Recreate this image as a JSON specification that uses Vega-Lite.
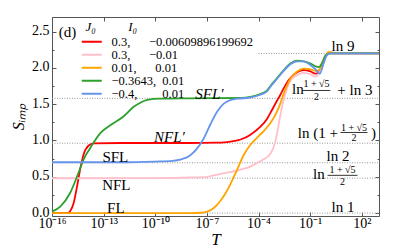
{
  "$schema": "https://vega.github.io/schema/vega-lite/v6.json",
  "width": 327,
  "height": 199,
  "autosize": {"type": "none"},
  "padding": {"left": 52, "top": 17, "right": 20, "bottom": 33},
  "background": "white",
  "config": {
    "view": {"stroke": "#555", "strokeWidth": 1},
    "font": "Liberation Serif",
    "axis": {"domain": false, "grid": false, "tickColor": "#555", "labelColor": "black", "labelFont": "Liberation Serif", "labelFontSize": 14, "titleFont": "Liberation Serif", "titleColor": "black", "titleFontWeight": "normal", "labelFlush": false, "labelOverlap": false}
  },
  "datasets": {
    "refs": [
      {"y": 2.1972, "x1": -4, "x2": 3},
      {"y": 1.5798, "x1": -16, "x2": 3},
      {"y": 0.9624, "x1": -16, "x2": 3},
      {"y": 0.6931, "x1": -16, "x2": 3},
      {"y": 0.4812, "x1": -16, "x2": 3},
      {"y": 0.0, "x1": -16, "x2": 3}
    ],
    "curves": [
      {"series": "A", "logT": -16, "S": 0}, {"series": "A", "logT": -15.1, "S": 0}, {"series": "A", "logT": -14.94, "S": 0.03}, {"series": "A", "logT": -14.74, "S": 0.14}, {"series": "A", "logT": -14.55, "S": 0.36}, {"series": "A", "logT": -14.35, "S": 0.62}, {"series": "A", "logT": -14.16, "S": 0.81}, {"series": "A", "logT": -13.87, "S": 0.93}, {"series": "A", "logT": -13.58, "S": 0.96}, {"series": "A", "logT": -12, "S": 0.965}, {"series": "A", "logT": -8, "S": 0.965}, {"series": "A", "logT": -6.5, "S": 0.97}, {"series": "A", "logT": -6.0, "S": 0.975}, {"series": "A", "logT": -5.63, "S": 0.985}, {"series": "A", "logT": -5.24, "S": 1.0}, {"series": "A", "logT": -4.86, "S": 1.03}, {"series": "A", "logT": -4.47, "S": 1.08}, {"series": "A", "logT": -3.89, "S": 1.19}, {"series": "A", "logT": -3.5, "S": 1.30}, {"series": "A", "logT": -3.31, "S": 1.38}, {"series": "A", "logT": -2.92, "S": 1.55}, {"series": "A", "logT": -2.73, "S": 1.63}, {"series": "A", "logT": -2.53, "S": 1.72}, {"series": "A", "logT": -2.34, "S": 1.80}, {"series": "A", "logT": -2.15, "S": 1.86}, {"series": "A", "logT": -1.76, "S": 1.94}, {"series": "A", "logT": -1.37, "S": 1.97}, {"series": "A", "logT": -0.98, "S": 1.95}, {"series": "A", "logT": -0.69, "S": 1.92}, {"series": "A", "logT": -0.49, "S": 1.94}, {"series": "A", "logT": -0.30, "S": 2.02}, {"series": "A", "logT": -0.11, "S": 2.15}, {"series": "A", "logT": 0.08, "S": 2.2}, {"series": "A", "logT": 3, "S": 2.2},

      {"series": "B", "logT": -16, "S": 0.48}, {"series": "B", "logT": -10, "S": 0.482}, {"series": "B", "logT": -8, "S": 0.49}, {"series": "B", "logT": -7, "S": 0.50}, {"series": "B", "logT": -6.21, "S": 0.54}, {"series": "B", "logT": -5.05, "S": 0.60}, {"series": "B", "logT": -4.47, "S": 0.64}, {"series": "B", "logT": -4.08, "S": 0.69}, {"series": "B", "logT": -3.70, "S": 0.74}, {"series": "B", "logT": -3.41, "S": 0.79}, {"series": "B", "logT": -3.21, "S": 0.86}, {"series": "B", "logT": -3.05, "S": 0.96}, {"series": "B", "logT": -2.92, "S": 1.10}, {"series": "B", "logT": -2.73, "S": 1.35}, {"series": "B", "logT": -2.53, "S": 1.57}, {"series": "B", "logT": -2.34, "S": 1.72}, {"series": "B", "logT": -2.15, "S": 1.82}, {"series": "B", "logT": -1.76, "S": 1.90}, {"series": "B", "logT": -1.37, "S": 1.93}, {"series": "B", "logT": -0.98, "S": 1.91}, {"series": "B", "logT": -0.69, "S": 1.88}, {"series": "B", "logT": -0.40, "S": 1.96}, {"series": "B", "logT": -0.11, "S": 2.15}, {"series": "B", "logT": 0.18, "S": 2.2}, {"series": "B", "logT": 3, "S": 2.2},

      {"series": "C", "logT": -16, "S": 0}, {"series": "C", "logT": -8, "S": 0}, {"series": "C", "logT": -7.3, "S": 0.005}, {"series": "C", "logT": -6.99, "S": 0.02}, {"series": "C", "logT": -6.6, "S": 0.07}, {"series": "C", "logT": -6.21, "S": 0.17}, {"series": "C", "logT": -5.9, "S": 0.28}, {"series": "C", "logT": -5.63, "S": 0.40}, {"series": "C", "logT": -5.24, "S": 0.60}, {"series": "C", "logT": -4.86, "S": 0.80}, {"series": "C", "logT": -4.47, "S": 0.94}, {"series": "C", "logT": -4.08, "S": 1.04}, {"series": "C", "logT": -3.70, "S": 1.13}, {"series": "C", "logT": -3.31, "S": 1.24}, {"series": "C", "logT": -2.92, "S": 1.40}, {"series": "C", "logT": -2.73, "S": 1.51}, {"series": "C", "logT": -2.53, "S": 1.65}, {"series": "C", "logT": -2.34, "S": 1.76}, {"series": "C", "logT": -2.15, "S": 1.85}, {"series": "C", "logT": -1.76, "S": 1.95}, {"series": "C", "logT": -1.37, "S": 1.99}, {"series": "C", "logT": -0.98, "S": 1.98}, {"series": "C", "logT": -0.69, "S": 1.96}, {"series": "C", "logT": -0.49, "S": 1.97}, {"series": "C", "logT": -0.21, "S": 2.12}, {"series": "C", "logT": 0.08, "S": 2.22}, {"series": "C", "logT": 0.47, "S": 2.205}, {"series": "C", "logT": 3, "S": 2.2},

      {"series": "D", "logT": -16, "S": 0.02}, {"series": "D", "logT": -15.52, "S": 0.09}, {"series": "D", "logT": -14.94, "S": 0.28}, {"series": "D", "logT": -14.55, "S": 0.50}, {"series": "D", "logT": -14.26, "S": 0.68}, {"series": "D", "logT": -14.16, "S": 0.74}, {"series": "D", "logT": -13.77, "S": 0.90}, {"series": "D", "logT": -13.19, "S": 1.10}, {"series": "D", "logT": -12.61, "S": 1.21}, {"series": "D", "logT": -11.85, "S": 1.33}, {"series": "D", "logT": -11.27, "S": 1.46}, {"series": "D", "logT": -10.87, "S": 1.52}, {"series": "D", "logT": -10.46, "S": 1.56}, {"series": "D", "logT": -9.7, "S": 1.575}, {"series": "D", "logT": -8, "S": 1.58}, {"series": "D", "logT": -5, "S": 1.585}, {"series": "D", "logT": -4.47, "S": 1.60}, {"series": "D", "logT": -3.89, "S": 1.64}, {"series": "D", "logT": -3.5, "S": 1.69}, {"series": "D", "logT": -3.31, "S": 1.75}, {"series": "D", "logT": -2.92, "S": 1.86}, {"series": "D", "logT": -2.53, "S": 1.97}, {"series": "D", "logT": -2.15, "S": 2.06}, {"series": "D", "logT": -1.76, "S": 2.10}, {"series": "D", "logT": -1.37, "S": 2.09}, {"series": "D", "logT": -0.98, "S": 2.06}, {"series": "D", "logT": -0.69, "S": 2.02}, {"series": "D", "logT": -0.49, "S": 2.01}, {"series": "D", "logT": -0.30, "S": 2.07}, {"series": "D", "logT": -0.11, "S": 2.17}, {"series": "D", "logT": 0.18, "S": 2.2}, {"series": "D", "logT": 3, "S": 2.2},

      {"series": "E", "logT": -16, "S": 0.70}, {"series": "E", "logT": -12, "S": 0.70}, {"series": "E", "logT": -10, "S": 0.71}, {"series": "E", "logT": -9, "S": 0.72}, {"series": "E", "logT": -8.5, "S": 0.74}, {"series": "E", "logT": -8, "S": 0.79}, {"series": "E", "logT": -7.6, "S": 0.88}, {"series": "E", "logT": -7.2, "S": 1.02}, {"series": "E", "logT": -6.8, "S": 1.22}, {"series": "E", "logT": -6.4, "S": 1.40}, {"series": "E", "logT": -6.0, "S": 1.51}, {"series": "E", "logT": -5.6, "S": 1.56}, {"series": "E", "logT": -5.2, "S": 1.575}, {"series": "E", "logT": -4.5, "S": 1.59}, {"series": "E", "logT": -3.89, "S": 1.63}, {"series": "E", "logT": -3.5, "S": 1.68}, {"series": "E", "logT": -3.31, "S": 1.74}, {"series": "E", "logT": -2.92, "S": 1.85}, {"series": "E", "logT": -2.53, "S": 1.96}, {"series": "E", "logT": -2.15, "S": 2.05}, {"series": "E", "logT": -1.76, "S": 2.09}, {"series": "E", "logT": -1.37, "S": 2.09}, {"series": "E", "logT": -0.98, "S": 2.04}, {"series": "E", "logT": -0.69, "S": 1.98}, {"series": "E", "logT": -0.44, "S": 1.92}, {"series": "E", "logT": -0.21, "S": 2.07}, {"series": "E", "logT": -0.01, "S": 2.18}, {"series": "E", "logT": 0.18, "S": 2.2}, {"series": "E", "logT": 3, "S": 2.2}
    ],
    "labels": [
      {"logT": -15.1, "S": 2.5, "text": "(d)"},
      {"logT": -12.32, "S": 0.773, "text": "SFL"},
      {"logT": -12.26, "S": 0.388, "text": "NFL"},
      {"logT": -12.29, "S": 0.072, "text": "FL"},
      {"logT": 0.91, "S": 2.304, "text": "ln 9"},
      {"logT": 0.62, "S": 0.78, "text": "ln 2"},
      {"logT": 0.91, "S": 0.085, "text": "ln 1"},
      {"logT": -1.71, "S": 1.708, "text": "ln"},
      {"logT": 1.60, "S": 1.70, "text": "+ ln 3"},
      {"logT": -0.55, "S": 1.103, "text": "ln (1 +"},
      {"logT": 2.68, "S": 1.103, "text": ")"},
      {"logT": -0.49, "S": 0.535, "text": "ln"}
    ],
    "italic": [
      {"logT": -6.85, "S": 1.64, "text": "SFL′"},
      {"logT": -9.18, "S": 1.048, "text": "NFL′"}
    ],
    "small": [
      {"logT": -0.63, "S": 1.777, "text": "1 + √5"},
      {"logT": -0.63, "S": 1.605, "text": "2"},
      {"logT": 1.55, "S": 1.172, "text": "1 + √5"},
      {"logT": 1.55, "S": 1.034, "text": "2"},
      {"logT": 0.88, "S": 0.595, "text": "1 + √5"},
      {"logT": 0.88, "S": 0.425, "text": "2"}
    ],
    "bars": [
      {"x1": -1.45, "x2": 0.17, "S": 1.688},
      {"x1": 0.76, "x2": 2.33, "S": 1.11},
      {"x1": 0.01, "x2": 1.75, "S": 0.52}
    ]
  },
  "layer": [
    {
      "data": {"name": "refs"},
      "mark": {"type": "rule", "stroke": "#999", "strokeWidth": 1, "strokeDash": [1, 1.5]},
      "encoding": {
        "x": {"field": "x1", "type": "quantitative", "scale": {"domain": [-16, 3], "nice": false, "zero": false},
          "axis": {"orient": "bottom", "values": [-16, -13, -10, -7, -4, -1, 2], "tickSize": -4, "labelPadding": 4,
            "labelExpr": "datum.value == -16 ? '10⁻¹⁶' : datum.value == -13 ? '10⁻¹³' : datum.value == -10 ? '10⁻¹⁰' : datum.value == -7 ? '10⁻⁷' : datum.value == -4 ? '10⁻⁴' : datum.value == -1 ? '10⁻¹' : '10²'",
            "title": "T", "titleFontStyle": "italic", "titleFontSize": 17, "titlePadding": 1}},
        "x2": {"field": "x2"},
        "y": {"field": "y", "type": "quantitative", "scale": {"domain": [-0.04, 2.7], "nice": false, "zero": false},
          "axis": {"orient": "left", "values": [0, 0.5, 1, 1.5, 2, 2.5], "format": ".1f", "tickSize": -4, "labelPadding": 7, "labelOffset": -1,
            "title": "Sᵢₘₚ", "titleFontStyle": "italic", "titleFontSize": 16, "titlePadding": 5}}
      }
    },
    {
      "data": {"name": "curves"},
      "mark": {"type": "line", "strokeWidth": 1.8, "interpolate": "monotone"},
      "encoding": {
        "x": {"field": "logT", "type": "quantitative", "axis": {"orient": "top", "values": [-16, -13, -10, -7, -4, -1, 2], "labels": false, "tickSize": -4, "title": null}},
        "y": {"field": "S", "type": "quantitative", "axis": {"orient": "right", "values": [0, 0.5, 1, 1.5, 2, 2.5], "labels": false, "tickSize": -4, "title": null}},
        "color": {"field": "series", "type": "nominal",
          "scale": {"domain": ["A", "B", "C", "D", "E"], "range": ["#ff0000", "#ffc0cb", "#ffa500", "#2ca02c", "#6495ed"]},
          "legend": {"orient": "none", "legendX": 33.5, "legendY": 3.5,
            "title": "\u00a0\u00a0\u00a0\u00a0\u00a0\u00a0\u00a0\u00a0J₀\u00a0\u00a0\u00a0\u00a0\u00a0\u00a0\u00a0\u00a0\u00a0\u00a0I₀",
            "titleFont": "Liberation Serif", "titleFontStyle": "italic", "titleFontSize": 13, "titleFontWeight": "normal", "titleColor": "black", "titlePadding": 2,
            "labelFont": "Liberation Serif", "labelFontSize": 12.5, "labelColor": "black", "labelOffset": 13.5, "labelLimit": 400,
            "symbolType": "M-4,0H4", "symbolSize": 25, "symbolStrokeWidth": 2, "rowPadding": 0, "padding": 0,
            "labelExpr": "datum.value == 'A' ? '\u00a0\u00a00.3,\u00a0\u00a0\u00a0\u00a0\u00a0\u00a0−0.00609896199692' : datum.value == 'B' ? '\u00a0\u00a00.3,\u00a0\u00a0\u00a0\u00a0\u00a0\u00a0−0.01' : datum.value == 'C' ? '\u00a0\u00a00.01,\u00a0\u00a0\u00a0\u00a0\u00a0\u00a00.01' : datum.value == 'D' ? '−0.3643,\u00a0\u00a00.01' : '−0.4,\u00a0\u00a0\u00a0\u00a0\u00a0\u00a0\u00a0\u00a00.01'"}}
      }
    },
    {
      "data": {"name": "labels"},
      "mark": {"type": "text", "font": "Liberation Serif", "fontSize": 15, "color": "black", "align": "center", "baseline": "middle"},
      "encoding": {
        "x": {"field": "logT", "type": "quantitative", "axis": null},
        "y": {"field": "S", "type": "quantitative", "axis": {"orient": "left", "values": [0.25, 0.75, 1.25, 1.75, 2.25], "labels": false, "tickSize": -2, "title": null}},
        "text": {"field": "text"}
      }
    },
    {
      "data": {"name": "italic"},
      "mark": {"type": "text", "font": "Liberation Serif", "fontSize": 15, "fontStyle": "italic", "color": "black", "align": "center", "baseline": "middle"},
      "encoding": {
        "x": {"field": "logT", "type": "quantitative", "axis": null},
        "y": {"field": "S", "type": "quantitative", "axis": {"orient": "right", "values": [0.25, 0.75, 1.25, 1.75, 2.25], "labels": false, "tickSize": -2, "title": null}},
        "text": {"field": "text"}
      }
    },
    {
      "data": {"name": "small"},
      "mark": {"type": "text", "font": "Liberation Serif", "fontSize": 10, "color": "black", "align": "center", "baseline": "middle"},
      "encoding": {
        "x": {"field": "logT", "type": "quantitative", "axis": null},
        "y": {"field": "S", "type": "quantitative", "axis": null},
        "text": {"field": "text"}
      }
    },
    {
      "data": {"name": "bars"},
      "mark": {"type": "rule", "stroke": "black", "strokeWidth": 0.8},
      "encoding": {
        "x": {"field": "x1", "type": "quantitative", "axis": null},
        "x2": {"field": "x2"},
        "y": {"field": "S", "type": "quantitative", "axis": null}
      }
    }
  ],
  "resolve": {"axis": {"x": "independent", "y": "independent"}}
}
